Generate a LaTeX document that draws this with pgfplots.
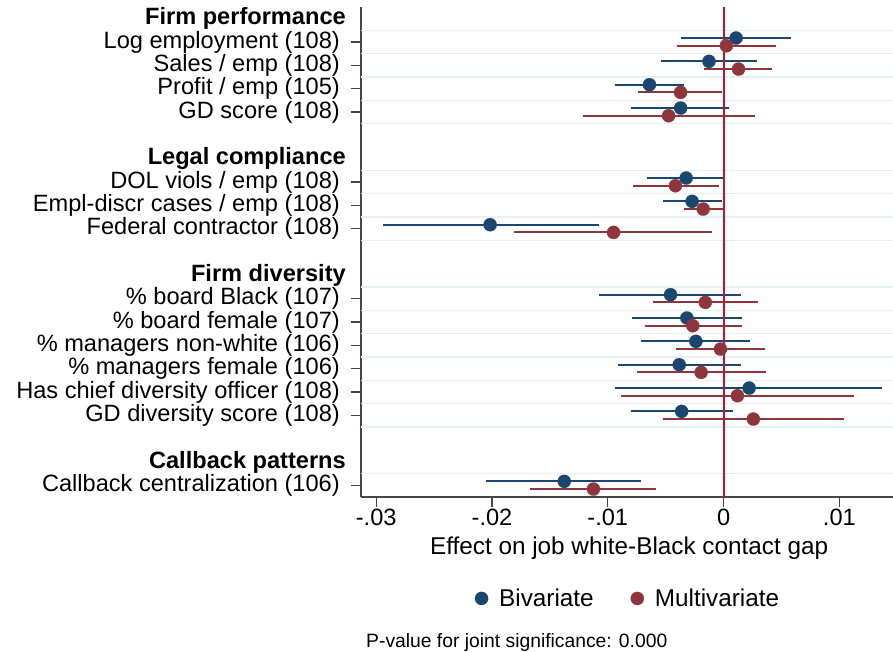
\documentclass[border=0pt]{standalone}
\usepackage{pgfplots}
\pgfplotsset{compat=1.18}
\usepackage{pgfplotstable}
\usepackage{fontspec}
\setmainfont{Liberation Sans}
\definecolor{sblue}{RGB}{26,71,111}
\definecolor{sred}{RGB}{144,53,59}
\definecolor{zred}{RGB}{200,16,46}
\definecolor{gridc}{RGB}{232,240,242}
\definecolor{axc}{RGB}{70,70,70}

\pgfplotstableread{
y x lo hi
1 0.00108 -0.00365 0.00586
2 -0.00126 -0.00541 0.00287
3 -0.00640 -0.00939 -0.00338
4 -0.00371 -0.00798 0.00051
7 -0.00323 -0.00658 0.00010
8 -0.00272 -0.00520 -0.00018
9 -0.02016 -0.02943 -0.01080
12 -0.00458 -0.01074 0.00153
13 -0.00317 -0.00790 0.00156
14 -0.00239 -0.00709 0.00230
15 -0.00383 -0.00915 0.00147
16 0.00221 -0.00936 0.01370
17 -0.00362 -0.00798 0.00078
20 -0.01376 -0.02054 -0.00709
}\biv

\pgfplotstableread{
y x lo hi
1 0.00024 -0.00400 0.00449
2 0.00129 -0.00170 0.00422
3 -0.00371 -0.00739 -0.00010
4 -0.00475 -0.01211 0.00269
7 -0.00416 -0.00783 -0.00042
8 -0.00176 -0.00341 -0.00003
9 -0.00950 -0.01806 -0.00099
12 -0.00158 -0.00607 0.00293
13 -0.00266 -0.00682 0.00158
14 -0.00027 -0.00413 0.00359
15 -0.00194 -0.00745 0.00362
16 0.00120 -0.00885 0.01124
17 0.00257 -0.00520 0.01038
20 -0.01124 -0.01675 -0.00580
}\multiv

\newcommand{\mainfs}{\fontsize{23.6}{26}\selectfont}
\newcommand{\bigfs}{\fontsize{24.3}{27}\selectfont}

\begin{document}
\begin{tikzpicture}
\useasboundingbox (0,0) rectangle (893pt,651pt);
\begin{axis}[
  at={(361pt,154pt)}, anchor=south west,
  scale only axis, width=532pt, height=490pt,
  xmin=-0.03131, xmax=0.01463,
  ymin=-20.5, ymax=0.5,
  axis x line*=bottom, axis y line*=left,
  axis line style={axc, line width=1.6pt, -},
  clip=false,
  scaled x ticks=false,
  xtick={-0.03,-0.02,-0.01,0,0.01},
  xticklabels={-.03,-.02,-.01,0,.01},
  ytick={-1,-2,-3,-4,-7,-8,-9,-12,-13,-14,-15,-16,-17,-20},
  yticklabels={Log employment (108),Sales / emp (108),Profit / emp (105),GD score (108),
    DOL viols / emp (108),Empl-discr cases / emp (108),Federal contractor (108),
    \% board Black (107),\% board female (107),\% managers non-white (106),
    \% managers female (106),Has chief diversity officer (108),GD diversity score (108),
    Callback centralization (106)},
  extra y ticks={0,-6,-11,-19},
  extra y tick labels={\textbf{Firm performance},\textbf{Legal compliance},\textbf{Firm diversity},\textbf{Callback patterns}},
  extra y tick style={major tick length=0pt, yticklabel style={xshift=-4pt}},
  tick align=outside,
  major tick length=10pt,
  minor tick num=0,
  tick style={axc, line width=1.2pt},
  tick label style={font=\mainfs},
  yticklabel style={inner xsep=0pt, xshift=-11pt},
  xticklabel style={inner ysep=2pt},
  xlabel={Effect on job white-Black contact gap},
  xlabel style={at={(axis description cs:0.504,-0.118)}, anchor=base, font=\bigfs, inner sep=0pt},
  legend style={at={(axis description cs:0.502,-0.207)}, anchor=center, draw=none, fill=none,
    legend columns=2, font=\bigfs,
    /tikz/every odd column/.append style={column sep=9pt},
    /tikz/every even column/.append style={column sep=35pt}},
]
\pgfplotsinvokeforeach{-0.5,-1.5,-2.5,-3.5,-4.5,-6.5,-7.5,-8.5,-9.5,-11.5,-12.5,-13.5,-14.5,-15.5,-16.5,-17.5,-19.5}{
  \draw[gridc, line width=1.6pt] (axis cs:-0.03131,#1) -- (axis cs:0.01463,#1);
}

\addplot[only marks, mark=*, mark size=6.6pt, color=sblue, line width=2pt, mark options={fill=sblue, draw=sblue, line width=0.2pt},
  error bars/.cd, x dir=both, x explicit, error mark=none,
  error bar style={line width=2pt, sblue}]
  table[x=x, y expr=-\thisrow{y}+0.17, x error plus expr=\thisrow{hi}-\thisrow{x}, x error minus expr=\thisrow{x}-\thisrow{lo}] {\biv};
\addlegendentry{Bivariate}

\addplot[only marks, mark=*, mark size=6.6pt, color=sred, line width=2pt, mark options={fill=sred, draw=sred, line width=0.2pt},
  error bars/.cd, x dir=both, x explicit, error mark=none,
  error bar style={line width=2pt, sred}]
  table[x=x, y expr=-\thisrow{y}-0.16, x error plus expr=\thisrow{hi}-\thisrow{x}, x error minus expr=\thisrow{x}-\thisrow{lo}] {\multiv};
\addlegendentry{Multivariate}

\draw[zred, line width=2pt] (axis cs:0,0.5) -- (axis cs:0,-20.5);
\end{axis}
\node[anchor=base west, inner sep=0pt, font=\fontsize{19.3}{21}\selectfont] at (366pt,4pt) {P-value for joint significance: 0.000};
\end{tikzpicture}
\end{document}
